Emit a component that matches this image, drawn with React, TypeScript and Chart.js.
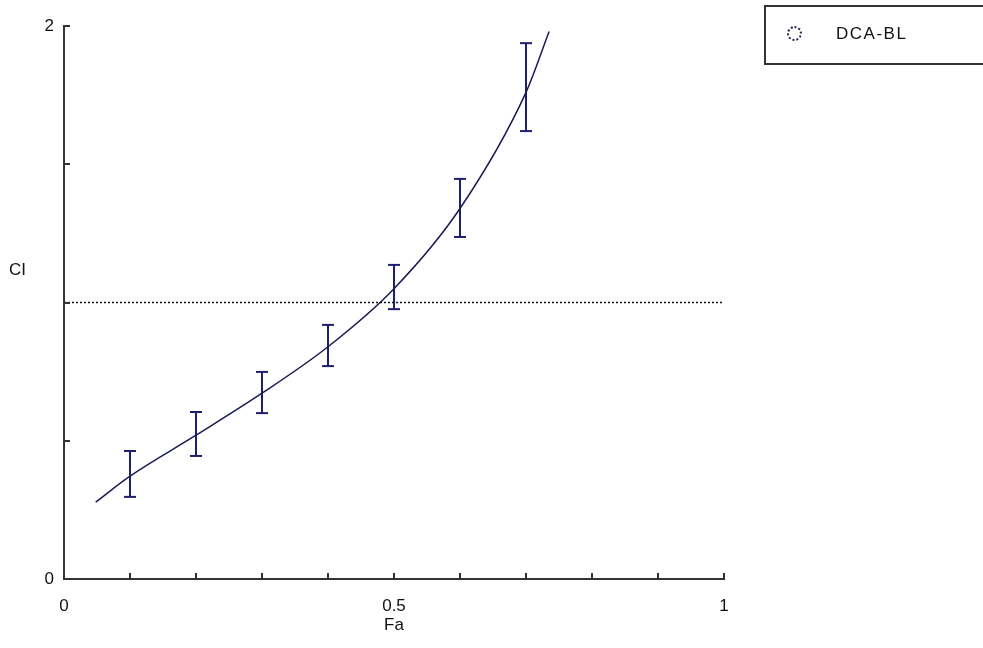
import React, { useEffect, useRef } from "react";
import { Chart, registerables } from "chart.js";

Chart.register(...registerables);

// Error-bar positions (Fa) and their CI intervals
const FA_POINTS = [0.1, 0.2, 0.3, 0.4, 0.5, 0.6, 0.7];
const CI_LOWER = [0.297, 0.445, 0.6, 0.77, 0.976, 1.237, 1.62];
const CI_UPPER = [0.463, 0.604, 0.749, 0.919, 1.136, 1.447, 1.938];

// Fitted Fa-CI curve
const CURVE_FA = [0.048, 0.1, 0.2, 0.3, 0.4, 0.5, 0.6, 0.7, 0.735];
const CURVE_CI = [0.278, 0.372, 0.52, 0.672, 0.84, 1.05, 1.34, 1.76, 1.98];

// Reference line CI = 1
const REF_FA = [0, 1];
const REF_CI = [1, 1];

const X_LABELS = [0, 0.5, 1];
const Y_LABELS = [0, 2];

const SERIES_NAME = "DCA-BL";
const X_TITLE = "Fa";
const Y_TITLE = "CI";

const FONT = "'Liberation Sans', Arial, sans-serif";
const TEXT_COLOR = "#111111";
const BAR_COLOR = "#1f1f70";
const CURVE_COLOR = "#1a1a55";
const AXIS_COLOR = "#333333";

const inwardTicks = {
  id: "inwardTicks",
  afterDraw(chart: any) {
    const { ctx, chartArea, scales } = chart;
    const xs = scales.x;
    const ys = scales.y;
    ctx.save();
    ctx.strokeStyle = AXIS_COLOR;
    ctx.lineWidth = 2;
    ctx.beginPath();
    xs.ticks.forEach((t: any) => {
      if (t.value <= 0) return;
      const px = Math.round(xs.getPixelForValue(t.value));
      ctx.moveTo(px, chartArea.bottom);
      ctx.lineTo(px, chartArea.bottom - 6);
    });
    ys.ticks.forEach((t: any) => {
      if (t.value <= 0) return;
      const py = Math.round(ys.getPixelForValue(t.value));
      ctx.moveTo(chartArea.left, py);
      ctx.lineTo(chartArea.left + 6, py);
    });
    ctx.stroke();
    ctx.restore();
  },
};

export default function App() {
  const canvasRef = useRef<HTMLCanvasElement | null>(null);

  useEffect(() => {
    if (!canvasRef.current) return;
    const datasets: any[] = [];
    datasets.push({
      label: "ref",
      data: REF_FA.map((x, i) => ({ x, y: REF_CI[i] })),
      showLine: true,
      borderColor: "#111111",
      borderWidth: 1.5,
      borderDash: [2, 2],
      pointRadius: 0,
    });
    datasets.push({
      label: SERIES_NAME,
      data: CURVE_FA.map((x, i) => ({ x, y: CURVE_CI[i] })),
      showLine: true,
      borderColor: CURVE_COLOR,
      borderWidth: 1.5,
      pointRadius: 0,
      cubicInterpolationMode: "monotone",
    });
    FA_POINTS.forEach((fa, i) => {
      datasets.push({
        label: "err" + i,
        data: [
          { x: fa, y: CI_LOWER[i] },
          { x: fa, y: CI_UPPER[i] },
        ],
        showLine: true,
        borderColor: BAR_COLOR,
        borderWidth: 2,
        pointStyle: "line",
        pointRadius: 6,
        pointBorderWidth: 2,
        pointBorderColor: BAR_COLOR,
        pointBackgroundColor: BAR_COLOR,
      });
    });

    const chart = new Chart(canvasRef.current, {
      type: "scatter",
      data: { datasets },
      plugins: [inwardTicks],
      options: {
        animation: false,
        responsive: false,
        maintainAspectRatio: false,
        layout: { padding: { left: 0, right: 259, top: 26, bottom: 0 } },
        plugins: {
          legend: { display: false },
          tooltip: { enabled: false },
        },
        scales: {
          x: {
            type: "linear",
            min: 0,
            max: 1,
            afterFit: (s: any) => {
              s.height = 69;
            },
            grid: { display: false, drawTicks: false },
            border: { display: true, color: AXIS_COLOR, width: 2 },
            ticks: {
              stepSize: 0.1,
              autoSkip: false,
              maxRotation: 0,
              padding: 17,
              color: TEXT_COLOR,
              font: { family: FONT, size: 17 },
              callback: (v: any) => {
                const r = Math.round(Number(v) * 100) / 100;
                return X_LABELS.includes(r) ? String(r) : "";
              },
            },
            title: {
              display: true,
              text: X_TITLE,
              color: TEXT_COLOR,
              font: { family: FONT, size: 17 },
              padding: { top: 0, bottom: 12 },
            },
          },
          y: {
            type: "linear",
            min: 0,
            max: 2,
            afterFit: (s: any) => {
              s.width = 64;
            },
            grid: { display: false, drawTicks: false },
            border: { display: true, color: AXIS_COLOR, width: 2 },
            ticks: {
              stepSize: 0.5,
              autoSkip: false,
              padding: 10,
              color: TEXT_COLOR,
              font: { family: FONT, size: 17 },
              callback: (v: any) => {
                const r = Math.round(Number(v) * 100) / 100;
                return Y_LABELS.includes(r) ? String(r) : "";
              },
            },
          },
        },
      },
    });
    return () => chart.destroy();
  }, []);

  return (
    <div
      style={{
        position: "absolute",
        left: 0,
        top: 0,
        width: 983,
        height: 648,
        background: "#ffffff",
        overflow: "hidden",
        fontFamily: FONT,
      }}
    >
      <canvas ref={canvasRef} width={983} height={648} style={{ display: "block" }} />
      <span
        style={{
          position: "absolute",
          left: 9,
          top: 260,
          fontSize: 17,
          color: TEXT_COLOR,
        }}
      >
        {Y_TITLE}
      </span>
      <div
        style={{
          position: "absolute",
          left: 764,
          top: 5,
          width: 240,
          height: 56,
          border: "2px solid #333333",
          boxSizing: "content-box",
        }}
      >
        <span
          style={{
            position: "absolute",
            left: 21,
            top: 19,
            width: 11,
            height: 11,
            borderRadius: "50%",
            border: "2px dotted #22224a",
          }}
        />
        <span
          style={{
            position: "absolute",
            left: 70,
            top: 17,
            fontSize: 17,
            letterSpacing: 1.5,
            color: TEXT_COLOR,
          }}
        >
          {SERIES_NAME}
        </span>
      </div>
    </div>
  );
}
